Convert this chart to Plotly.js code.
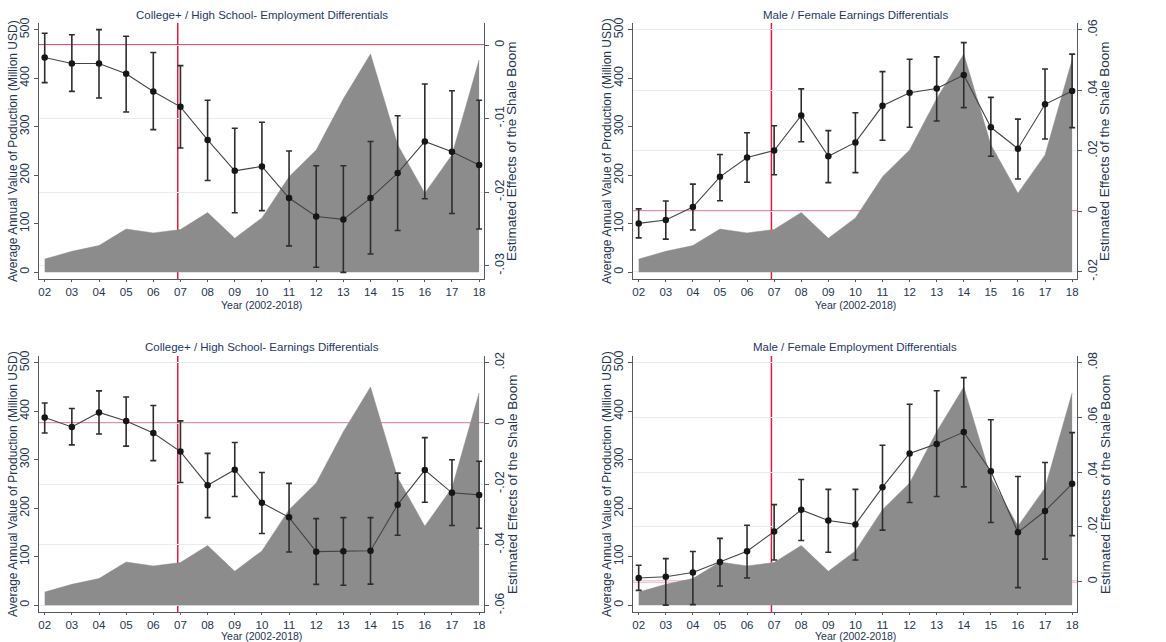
<!DOCTYPE html>
<html>
<head>
<meta charset="utf-8">
<script src="https://cdn.plot.ly/plotly-3.0.1.min.js"></script>
<style>html,body{margin:0;padding:0;background:#fff;}#chart{width:1166px;height:642px;}</style>
</head>
<body>
<div id="chart"></div>
<script>
// ---------- data ----------
const years = [2002,2003,2004,2005,2006,2007,2008,2009,2010,2011,2012,2013,2014,2015,2016,2017,2018];
const yearLabels = ['02','03','04','05','06','07','08','09','10','11','12','13','14','15','16','17','18'];
// Average annual value of production (Million USD)
const production = [27,43,55,89,81,88,123,70,112,197,252,358,450,263,163,242,438];

const panelTitles = [
  'College+ / High School- Employment Differentials',
  'Male / Female Earnings Differentials',
  'College+ / High School- Earnings Differentials',
  'Male / Female Employment Differentials'
];
const leftTitles = [
  'Average Annual Value of Poduction (Million USD)',
  'Average Annual Value of Production (Million USD)',
  'Average Annual Value of Production (Million USD)',
  'Average Annual Value of Production (Million USD)'
];
const rightTitle = 'Estimated Effects of the Shale Boom';
const xTitle = 'Year (2002-2018)';
const leftTicks = [0,100,200,300,400,500];

// College+/HS employment
const eduEmp   = [-0.0017,-0.0025,-0.0025,-0.0039,-0.0063,-0.0084,-0.0129,-0.0171,-0.0165,-0.0208,-0.0233,-0.0237,-0.0208,-0.0174,-0.0131,-0.0145,-0.0163];
const eduEmpHi = [0.0016,0.0014,0.0021,0.0012,-0.0010,-0.0028,-0.0075,-0.0113,-0.0105,-0.0144,-0.0164,-0.0164,-0.0131,-0.0096,-0.0053,-0.0062,-0.0075];
const eduEmpLo = [-0.0051,-0.0063,-0.0072,-0.0091,-0.0115,-0.0140,-0.0184,-0.0228,-0.0225,-0.0273,-0.0302,-0.0309,-0.0284,-0.0252,-0.0209,-0.0229,-0.0250];
const eduEmpTicks = [0,-0.01,-0.02,-0.03];
const eduEmpTickText = ['0','-.01','-.02','-.03'];

// Male/Female earnings
const sexEarn   = [-0.0040,-0.0029,0.0014,0.0114,0.0178,0.0201,0.0317,0.0182,0.0228,0.0349,0.0392,0.0406,0.0451,0.0278,0.0207,0.0354,0.0398];
const sexEarnHi = [0.0008,0.0034,0.0090,0.0188,0.0260,0.0283,0.0405,0.0267,0.0326,0.0462,0.0503,0.0511,0.0558,0.0377,0.0305,0.0471,0.0520];
const sexEarnLo = [-0.0088,-0.0092,-0.0062,0.0035,0.0096,0.0121,0.0230,0.0095,0.0128,0.0235,0.0278,0.0299,0.0343,0.0182,0.0107,0.0239,0.0277];
const sexEarnTicks = [-0.02,0,0.02,0.04,0.06];
const sexEarnTickText = ['-.02','0','.02','.04','.06'];

// College+/HS earnings
const eduEarn   = [0.0019,-0.0012,0.0036,0.0008,-0.0032,-0.0093,-0.0204,-0.0153,-0.0262,-0.0310,-0.0423,-0.0422,-0.0420,-0.0268,-0.0154,-0.0229,-0.0236];
const eduEarnHi = [0.0067,0.0049,0.0107,0.0087,0.0059,0.0008,-0.0099,-0.0063,-0.0162,-0.0198,-0.0314,-0.0311,-0.0311,-0.0164,-0.0047,-0.0120,-0.0125];
const eduEarnLo = [-0.0032,-0.0071,-0.0035,-0.0075,-0.0123,-0.0195,-0.0311,-0.0241,-0.0363,-0.0424,-0.0531,-0.0534,-0.0530,-0.0369,-0.0260,-0.0337,-0.0346];
const eduEarnTicks = [0.02,0,-0.02,-0.04,-0.06];
const eduEarnTickText = ['.02','0','-.02','-.04','-.06'];

// Male/Female employment
const sexEmp   = [0.0013,0.0018,0.0033,0.0072,0.0111,0.0183,0.0262,0.0223,0.0209,0.0345,0.0468,0.0503,0.0546,0.0403,0.0180,0.0258,0.0357];
const sexEmpHi = [0.0060,0.0084,0.0110,0.0158,0.0206,0.0281,0.0373,0.0337,0.0337,0.0498,0.0648,0.0697,0.0745,0.0591,0.0384,0.0435,0.0544];
const sexEmpLo = [-0.0032,-0.0086,-0.0084,-0.0016,0.0013,0.0079,0.0150,0.0107,0.0079,0.0188,0.0289,0.0311,0.0346,0.0216,-0.0022,0.0082,0.0168];
const sexEmpTicks = [0,0.02,0.04,0.06,0.08];
const sexEmpTickText = ['0','.02','.04','.06','.08'];

const boomYear = 2006.9;

// ---------- layout ----------
const W = 1166, H = 642;
const panels = [
  {est: eduEmp,  hi: eduEmpHi,  lo: eduEmpLo,  ticks: eduEmpTicks,  tt: eduEmpTickText,  rr: [-0.0318, 0.0030], px: [39,484],  py: [23,279],  ty: 15,  xt: 305, lt: 13,  rt: 512},
  {est: sexEarn, hi: sexEarnHi, lo: sexEarnLo, ticks: sexEarnTicks, tt: sexEarnTickText, rr: [-0.0224, 0.0623], px: [633,1077], py: [23,279],  ty: 15,  xt: 305, lt: 607, rt: 1105},
  {est: eduEarn, hi: eduEarnHi, lo: eduEarnLo, ticks: eduEarnTicks, tt: eduEarnTickText, rr: [-0.0622, 0.0222], px: [39,484],  py: [356,612], ty: 347, xt: 636, lt: 13,  rt: 512},
  {est: sexEmp,  hi: sexEmpHi,  lo: sexEmpLo,  ticks: sexEmpTicks,  tt: sexEmpTickText,  rr: [-0.0111, 0.0824], px: [633,1077], py: [356,612], ty: 347, xt: 636, lt: 607, rt: 1105}
];

const font = 'Liberation Sans, Arial, sans-serif';
const tickColor = '#243552';
const axisColor = '#555a60';
const red = '#e8173f';

const data = [];
const layout = {
  width: W, height: H,
  margin: {l:0, r:0, t:0, b:0},
  paper_bgcolor: '#fff', plot_bgcolor: 'rgba(0,0,0,0)',
  showlegend: false,
  font: {family: font, size: 12, color: tickColor},
  annotations: [], shapes: []
};

function ann(x, y, text, size, color, angle) {
  return {xref: 'paper', yref: 'paper', x: x / W, y: 1 - y / H,
    xanchor: 'center', yanchor: 'middle', showarrow: false, textangle: angle || 0,
    borderpad: 0, text: text, font: {family: font, size: size, color: color}};
}

panels.forEach((p, i) => {
  const n = i + 1;
  const xa = 'x' + n, yl = 'y' + (2*n - 1), yr = 'y' + (2*n);
  const xaKey = 'xaxis' + n, ylKey = 'yaxis' + (2*n - 1), yrKey = 'yaxis' + (2*n);
  const xd = [p.px[0]/W, p.px[1]/W];
  const yd = [1 - p.py[1]/H, 1 - p.py[0]/H];

  data.push({
    type: 'scatter', mode: 'lines', x: years, y: production,
    xaxis: xa, yaxis: yl, fill: 'tozeroy', fillcolor: '#8c8c8c',
    line: {color: '#8c8c8c', width: 0.5}, hoverinfo: 'skip'
  });
  data.push({
    type: 'scatter', mode: 'lines+markers', x: years, y: p.est,
    xaxis: xa, yaxis: yr,
    line: {color: '#444444', width: 1.1},
    marker: {color: '#161616', size: 6.5},
    error_y: {type: 'data', symmetric: false,
      array: p.hi.map((h, k) => h - p.est[k]),
      arrayminus: p.lo.map((l, k) => p.est[k] - l),
      color: '#2e2e2e', thickness: 1.6, width: 3}
  });

  layout[xaKey] = {
    domain: xd, anchor: yl, range: [2001.79, 2018.18],
    tickmode: 'array', tickvals: years, ticktext: yearLabels,
    showgrid: false, zeroline: false, showline: true, linecolor: axisColor, linewidth: 1,
    ticks: 'outside', ticklen: 2, tickcolor: axisColor,
    tickfont: {family: font, size: 11.5, color: tickColor}
  };
  layout[ylKey] = {
    domain: yd, anchor: xa, range: [-14, 514],
    tickmode: 'array', tickvals: leftTicks, ticktext: leftTicks.map(String),
    tickangle: -90, showgrid: false, zeroline: false,
    showline: true, linecolor: axisColor, linewidth: 1,
    ticks: 'outside', ticklen: 4, tickcolor: axisColor,
    tickfont: {family: font, size: 12.5, color: tickColor}
  };
  layout[yrKey] = {
    domain: yd, anchor: xa, overlaying: yl, side: 'right', range: p.rr,
    tickmode: 'array', tickvals: p.ticks, ticktext: p.tt,
    tickangle: -90, showgrid: true, gridcolor: '#e4edf1', gridwidth: 1, zeroline: false,
    showline: true, linecolor: axisColor, linewidth: 1,
    ticks: 'outside', ticklen: 4, tickcolor: axisColor,
    tickfont: {family: font, size: 12.5, color: tickColor}
  };

  const cx = (p.px[0] + p.px[1]) / 2, cy = (p.py[0] + p.py[1]) / 2;
  layout.annotations.push(ann(cx, p.ty, panelTitles[i], 11.5, '#1f3766', 0));
  layout.annotations.push(ann(cx, p.xt, xTitle, 10.5, tickColor, 0));
  layout.annotations.push(ann(p.lt, cy, leftTitles[i], 12, tickColor, -90));
  layout.annotations.push(ann(p.rt, cy, rightTitle, 13.5, tickColor, -90));

  layout.shapes.push({
    type: 'line', layer: 'below', xref: xa + ' domain', yref: yr,
    x0: 0, x1: 1, y0: 0, y1: 0, line: {color: red, width: 1.5}
  });
  layout.shapes.push({
    type: 'line', layer: 'below', xref: xa, yref: yl + ' domain',
    x0: boomYear, x1: boomYear, y0: 0, y1: 1, line: {color: red, width: 1.5}
  });
});

Plotly.newPlot('chart', data, layout, {displayModeBar: false, staticPlot: true});
</script>
</body>
</html>
